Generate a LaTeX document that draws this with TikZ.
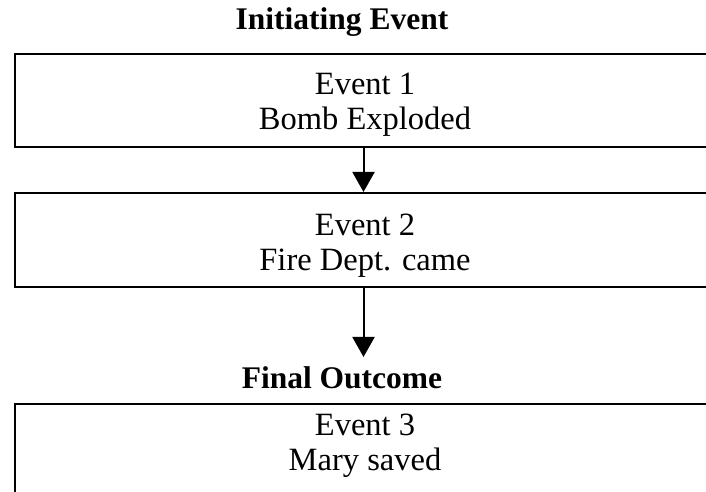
\documentclass[tikz,border=0pt]{standalone}
\usepackage{fontspec}
\setmainfont{Liberation Serif}
\usetikzlibrary{arrows.meta}
\begin{document}
\begin{tikzpicture}[x=1bp,y=1bp,
  eventbox/.style={draw=black, line width=2bp, minimum width=697bp, inner sep=0pt},
  boxtext/.style={align=center, font=\fontsize{32.5bp}{35bp}\selectfont, inner sep=0pt},
  headtext/.style={font=\fontsize{31.5bp}{34bp}\selectfont\bfseries, inner sep=0pt},
  flow/.style={line width=2bp, -{Triangle[width=22bp,length=20bp]}}]
\useasboundingbox (0,0) rectangle (706,492);
\clip (0,0) rectangle (706,492);
\node[headtext] (init) at (342,470) {Initiating Event};
\node[eventbox, minimum height=93bp] (b1) at (363.5,391.5) {};
\node[boxtext] (t1) at (365,387) {Event 1\\Bomb Exploded};
\node[eventbox, minimum height=94bp] (b2) at (363.5,252) {};
\node[boxtext] (t2) at (365,246) {Event 2\\Fire Dept. came};
\node[headtext] (final) at (342,114) {Final Outcome};
\node[eventbox, minimum height=96bp] (b3) at (363.5,40) {};
\node[boxtext] (t3) at (365,46) {Event 3\\Mary saved};
\draw[flow] (b1.south) -- (b2.north);
\coordinate (a2end) at (363.5,135);
\draw[flow] (b2.south) -- (a2end);
\end{tikzpicture}
\end{document}
